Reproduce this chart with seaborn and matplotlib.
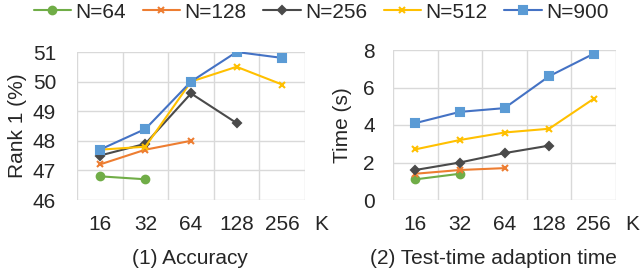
import numpy as np
import pandas as pd
import matplotlib
import matplotlib.pyplot as plt
import seaborn as sns

sns.set_style("white")
plt.rcParams['font.family'] = ['Liberation Sans', 'DejaVu Sans']

# data
k_labels = ["16", "32", "64", "128", "256"]
series_names = ["N=64", "N=128", "N=256", "N=512", "N=900"]

acc_n64 = [46.8, 46.7]
acc_n128 = [47.2, 47.7, 48.0]
acc_n256 = [47.5, 47.9, 49.6, 48.6]
acc_n512 = [47.7, 47.8, 50.0, 50.5, 49.9]
acc_n900 = [47.7, 48.4, 50.0, 51.0, 50.8]

time_n64 = [1.1, 1.4]
time_n128 = [1.4, 1.6, 1.7]
time_n256 = [1.6, 2.0, 2.5, 2.9]
time_n512 = [2.7, 3.2, 3.6, 3.8, 5.4]
time_n900 = [4.1, 4.7, 4.9, 6.6, 7.8]

acc_data = [acc_n64, acc_n128, acc_n256, acc_n512, acc_n900]
time_data = [time_n64, time_n128, time_n256, time_n512, time_n900]

line_colors = ["#70AD47", "#ED7D31", "#4A4A4A", "#FFC000", "#4472C4"]
marker_colors = ["#70AD47", "#ED7D31", "#4A4A4A", "#FFC000", "#5B9BD5"]
markers = ["o", "x", "D", "x", "s"]
msizes = [5.5, 4.5, 4, 4.5, 6]

FS = 15


def draw_panel(ax, data, ylim, yticks, ypad):
    for name, vals, lc, mc, mk, ms in zip(series_names, data, line_colors,
                                          marker_colors, markers, msizes):
        df = pd.DataFrame({"pos": np.arange(len(vals)), "val": vals})
        sns.lineplot(data=df, x="pos", y="val", ax=ax, color=lc, marker=mk,
                     markersize=ms, markerfacecolor=mc, markeredgecolor=mc,
                     markeredgewidth=1.5, linewidth=1.5, label=name, legend=False)
    ax.set_xlim(-0.5, 4.5)
    ax.set_ylim(*ylim)
    ax.set_yticks(yticks)
    ax.set_xticks(range(len(k_labels)))
    ax.set_xticklabels(k_labels)
    ax.set_xticks(np.arange(-0.5, 5, 1.0), minor=True)
    ax.grid(False)
    ax.grid(axis="y", which="major", color="#D9D9D9", linewidth=1)
    ax.grid(axis="x", which="minor", color="#D9D9D9", linewidth=1)
    ax.tick_params(which="both", length=0, labelsize=FS)
    ax.tick_params(axis="y", pad=ypad)
    ax.tick_params(axis="x", pad=11)
    for sp in ax.spines.values():
        sp.set_visible(False)
    ax.set_xlabel("")
    ax.text(1.073, 1 - (225 - 52) / 148, "K", transform=ax.transAxes,
            ha="center", va="center", fontsize=FS)


fig = plt.figure(figsize=(6.42, 2.73), dpi=100)
ax1 = fig.add_axes([77 / 642, 1 - 200 / 273, 228 / 642, 148 / 273])
ax2 = fig.add_axes([393 / 642, 1 - 200 / 273, 223 / 642, 150 / 273])

draw_panel(ax1, acc_data, (46, 51), [46, 47, 48, 49, 50, 51], 15)
draw_panel(ax2, time_data, (0, 8), [0, 2, 4, 6, 8], 13)
ax2.texts[0].set_position((1.073, 1 - (225 - 50) / 150))

ax1.set_ylabel("Rank 1 (%)", fontsize=FS)
ax2.set_ylabel("Time (s)", fontsize=FS)
ax1.yaxis.set_label_coords(-0.22, 0.5)
ax2.yaxis.set_label_coords(-0.184, 0.5)

fig.text(190 / 642, 1 - 258 / 273, "(1) Accuracy", ha="center", va="center", fontsize=FS)
fig.text(493 / 642, 1 - 258 / 273, "(2) Test-time adaption time", ha="center",
         va="center", fontsize=FS)

handles, labels = ax1.get_legend_handles_labels()
fig.legend(handles, labels, loc="center", bbox_to_anchor=(0.5, 1 - 12 / 273), ncol=5,
           frameon=False, fontsize=FS, handlelength=1.8, handletextpad=0.2,
           columnspacing=0.8, borderaxespad=0, borderpad=0)

fig.savefig("out.png", dpi=100)
